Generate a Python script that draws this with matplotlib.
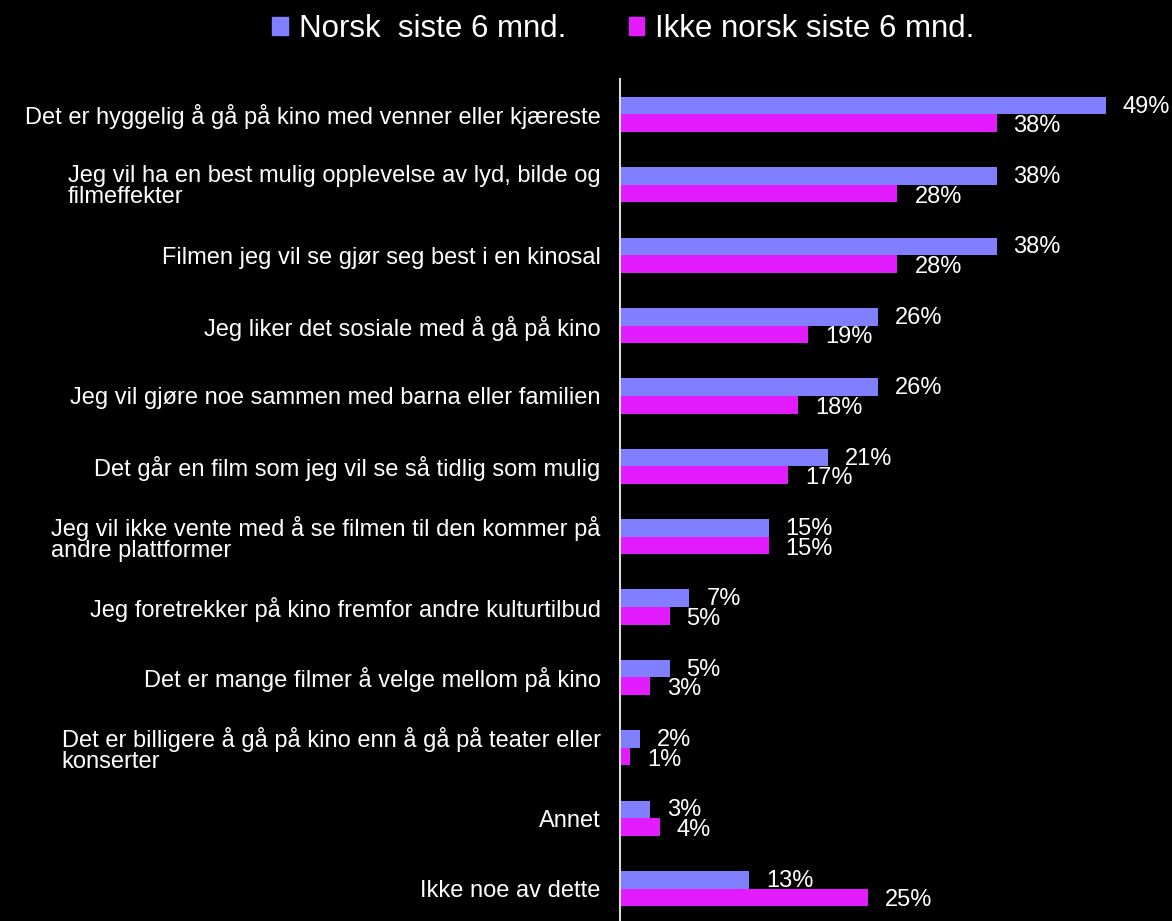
import matplotlib.pyplot as plt
from matplotlib.patches import Patch
import numpy as np

plt.rcParams['font.family'] = ['Liberation Sans', 'DejaVu Sans']

categories = [
    'Det er hyggelig å gå på kino med venner eller kjæreste',
    'Jeg vil ha en best mulig opplevelse av lyd, bilde og\nfilmeffekter',
    'Filmen jeg vil se gjør seg best i en kinosal',
    'Jeg liker det sosiale med å gå på kino',
    'Jeg vil gjøre noe sammen med barna eller familien',
    'Det går en film som jeg vil se så tidlig som mulig',
    'Jeg vil ikke vente med å se filmen til den kommer på\nandre plattformer',
    'Jeg foretrekker på kino fremfor andre kulturtilbud',
    'Det er mange filmer å velge mellom på kino',
    'Det er billigere å gå på kino enn å gå på teater eller\nkonserter',
    'Annet',
    'Ikke noe av dette',
]
norsk = [49, 38, 38, 26, 26, 21, 15, 7, 5, 2, 3, 13]
ikke_norsk = [38, 28, 28, 19, 18, 17, 15, 5, 3, 1, 4, 25]
series_names = ['Norsk  siste 6 mnd.', 'Ikke norsk siste 6 mnd.']

blue = '#7F7FFF'
magenta = '#E31BFF'

fig = plt.figure(figsize=(11.72, 9.21), dpi=100, facecolor='black')
ax = fig.add_axes([0.529, 0.0, 0.465, 0.914], facecolor='black')

y = np.arange(len(categories))
h = 0.25
b1 = ax.barh(y - h / 2, norsk, height=h, color=blue)
b2 = ax.barh(y + h / 2, ikke_norsk, height=h, color=magenta)

for bars, vals, dy in [(b1, norsk, -1), (b2, ikke_norsk, -3)]:
    for bar, v in zip(bars, vals):
        ax.annotate(f'{v}%', (bar.get_width(), bar.get_y() + bar.get_height() / 2),
                    xytext=(17, dy), textcoords='offset pixels', ha='left', va='center',
                    color='white', fontsize=17, annotation_clip=False)

ax.set_xlim(0, 55)
ax.set_ylim(11.46, -0.5)
ax.set_xticks([])
ax.set_yticks(y)
ax.set_yticklabels(categories, fontsize=17, color='white', multialignment='left',
                   linespacing=0.95)
ax.tick_params(axis='y', length=0, pad=14)
for s in ['top', 'right', 'bottom']:
    ax.spines[s].set_visible(False)
ax.spines['left'].set_color('#D9D9D9')
ax.spines['left'].set_linewidth(1.5)

handles = [Patch(color=blue), Patch(color=magenta)]
fig.legend(handles, series_names, loc='upper center', bbox_to_anchor=(0.532, 1.015),
           ncol=2, frameon=False, fontsize=22.5, labelcolor='white',
           handlelength=0.5, handleheight=0.5, handletextpad=0.35, columnspacing=2.0)

fig.savefig('out.png', dpi=100, facecolor='black')
